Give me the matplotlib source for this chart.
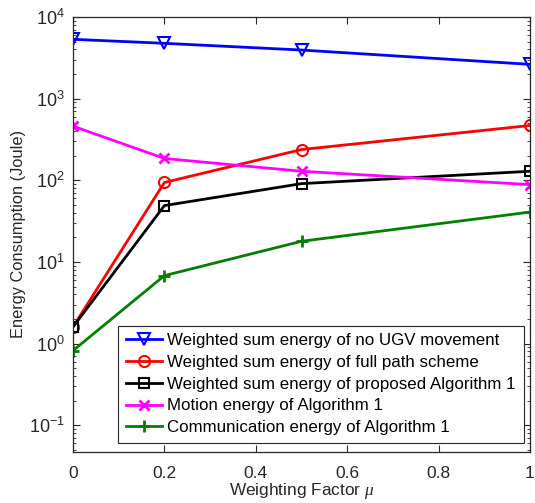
import matplotlib
matplotlib.use("Agg")
import matplotlib.pyplot as plt
from matplotlib.ticker import LogLocator, FixedLocator

mu = [0, 0.2, 0.5, 1]
no_ugv = [5330, 4760, 3940, 2630]
full_path = [1.6, 94, 238, 469]
proposed = [1.6, 49, 91, 129]
motion = [460, 185, 129, 88.5]
comm = [0.82, 6.8, 17.9, 40.8]

labels = ["Weighted sum energy of no UGV movement",
          "Weighted sum energy of full path scheme",
          "Weighted sum energy of proposed Algorithm 1",
          "Motion energy of Algorithm 1",
          "Communication energy of Algorithm 1"]
xticks = [0, 0.2, 0.4, 0.6, 0.8, 1]
xticklabels = ['0', '0.2', '0.4', '0.6', '0.8', '1']

plt.rcParams['font.family'] = ['Liberation Sans', 'DejaVu Sans']
plt.rcParams['mathtext.fontset'] = 'custom'
plt.rcParams['mathtext.rm'] = 'Liberation Sans'
plt.rcParams['mathtext.it'] = 'Liberation Serif:italic'
plt.rcParams['axes.unicode_minus'] = False

fig = plt.figure(figsize=(5.35, 5.03), dpi=100)
ax = fig.add_axes([73/535, 1 - 452/503, (530 - 73)/535, (452 - 17)/503])

lw = 2
ax.plot(mu, no_ugv, color='#0000ff', marker='v', mfc='none', mec='#0000ff', ms=8, mew=1.5, lw=lw, label=labels[0])
ax.plot(mu, full_path, color='#ff0000', marker='o', mfc='none', mec='#ff0000', ms=8, mew=1.5, lw=lw, label=labels[1])
ax.plot(mu, proposed, color='#000000', marker='s', mfc='none', mec='#000000', ms=7, mew=1.5, lw=lw, label=labels[2])
ax.plot(mu, motion, color='#ff00ff', marker='x', ms=7, mew=2, lw=lw, label=labels[3])
ax.plot(mu, comm, color='#008000', marker='+', ms=9, mew=2, lw=lw, label=labels[4])

ax.set_yscale('log')
ax.set_xlim(0, 1)
ax.set_ylim(0.047, 1e4)
ax.xaxis.set_major_locator(FixedLocator(xticks))
ax.set_xticklabels(xticklabels)
ax.yaxis.set_major_locator(LogLocator(base=10, numticks=10))
ax.yaxis.set_minor_locator(LogLocator(base=10, subs=range(2, 10), numticks=20))

ax.tick_params(which='both', direction='in', top=True, right=True, colors='#262626')
ax.tick_params(which='major', length=5, width=0.8)
ax.tick_params(which='minor', length=2.5, width=0.6)
ax.tick_params(axis='x', labelsize=12.5, pad=10)
ax.tick_params(axis='y', labelsize=13, pad=6)
for s in ax.spines.values():
    s.set_color('#262626')
    s.set_linewidth(0.9)

ax.set_xlabel('Weighting Factor $\\mathit{\\mu}$', fontsize=12.4, color='#262626', labelpad=0)
ax.set_ylabel('Energy Consumption (Joule)', fontsize=11.8, color='#262626', labelpad=2)

leg = ax.legend(loc='lower right', bbox_to_anchor=(0.986, 0.021), fontsize=12.2,
                fancybox=False, framealpha=1, edgecolor='#262626',
                handlelength=2.15, handletextpad=0.3, labelspacing=0.4,
                borderpad=0.45, borderaxespad=0)
leg.get_frame().set_linewidth(0.8)
for t in leg.get_texts():
    t.set_color('#000000')

fig.savefig('out.png', dpi=100)
